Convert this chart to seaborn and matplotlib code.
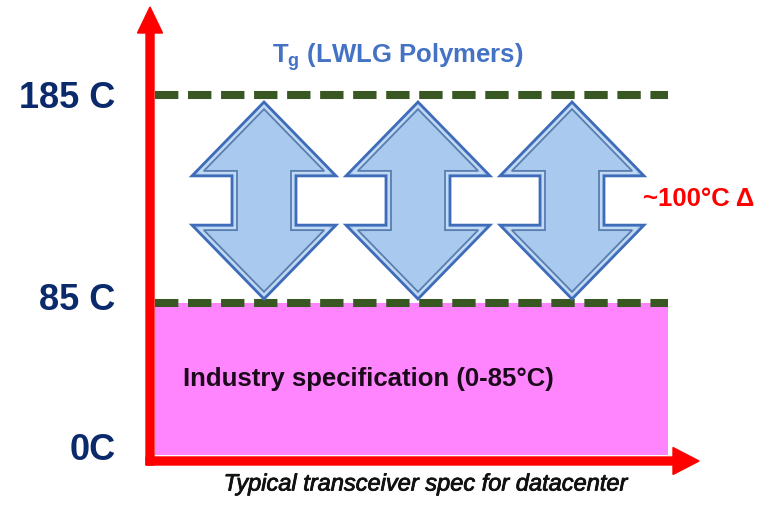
import numpy as np
import matplotlib
matplotlib.use("Agg")
import matplotlib.pyplot as plt
import matplotlib.patheffects as pe
import matplotlib.transforms as mtransforms
from matplotlib.patches import Polygon, FancyArrow
import seaborn as sns

# Temperature levels shown on the vertical axis
levels = [0, 85, 185]
level_labels = ["0C", "85 C", "185 C"]
spec_low, spec_high = 0, 85          # industry specification band (°C)
tg_polymer = 185                     # Tg of LWLG polymers (°C)
n_margin_arrows = 3

spec_label = "Industry specification (0-85°C)"
tg_label = r"$\mathbf{T_g}$ (LWLG Polymers)"
delta_label = "~100°C Δ"
x_label = "Typical transceiver spec for datacenter"

sns.set_theme(style="white")
plt.rcParams["font.family"] = ["Liberation Sans", "DejaVu Sans"]
plt.rcParams["mathtext.fontset"] = "custom"
plt.rcParams["mathtext.rm"] = "Liberation Sans"
plt.rcParams["mathtext.bf"] = "Liberation Sans:bold"

W, H = 769, 505
fig = plt.figure(figsize=(W / 100, H / 100), dpi=100)
ax_left = 150
ax = fig.add_axes([ax_left / W, 0, 1 - ax_left / W, 1])

# schematic temperature scale: 0-85 compressed, 85-185 expanded
anchor_t = np.array([-1000.0, 0.0, 85.0, 185.0, 1185.0])
anchor_p = np.array([50 - 1000 * 152 / 85, 50.0, 202.0, 410.0, 410.0 + 1000 * 2.06])


def forward(t):
    return np.interp(t, anchor_t, anchor_p)


def inverse(p):
    return np.interp(p, anchor_p, anchor_t)


ax.set_yscale("function", functions=(forward, inverse))
ax.set_ylim(inverse(0), inverse(H))
ax.set_xlim(ax_left, W)

# specification band
band_x0, band_x1 = 155, 668
ax.bar((band_x0 + band_x1) / 2, spec_high - spec_low, width=band_x1 - band_x0,
       bottom=spec_low, color="#ff85ff", edgecolor="none", zorder=1)

# dashed limit lines at 85 C and Tg
for lvl in (spec_high, tg_polymer):
    sns.lineplot(x=[band_x0, band_x1], y=[lvl, lvl], ax=ax, color="#385723",
                 lw=5.8, zorder=3)
    ax.lines[-1].set_dashes((2.9, 1.2))
    ax.lines[-1].set_dash_capstyle("butt")

# level labels as y tick labels
ax.set_yticks(levels)
ax.set_yticklabels(level_labels, fontsize=26, fontweight="bold", color="#0b2a6b")
ax.tick_params(axis="y", length=0, pad=25)
ax.set_xticks([])
for s in ax.spines.values():
    s.set_visible(False)
# lower labels sit slightly above their level lines
for lab, lift in zip(ax.get_yticklabels(), (8, 6, 0)):
    lab.set_transform(lab.get_transform()
                      + mtransforms.ScaledTranslation(0, lift / 100, fig.dpi_scale_trans))


def to_px(x, t):
    return ax.transData.transform((x, t))


def offset_polygon(pts, d):
    """Inset a clockwise polygon by d pixels (miter joins)."""
    pts = np.asarray(pts, float)
    n = len(pts)
    out = []
    for i in range(n):
        p0, p1, p2 = pts[i - 1], pts[i], pts[(i + 1) % n]
        e1, e2 = p1 - p0, p2 - p1
        n1 = np.array([e1[1], -e1[0]]) / np.hypot(*e1)
        n2 = np.array([e2[1], -e2[0]]) / np.hypot(*e2)
        out.append(p1 + d * (n1 + n2) / (1 + n1 @ n2))
    return np.array(out)


# double-headed arrows spanning the 85 C -> Tg margin
y_top = to_px(ax_left, tg_polymer)[1] - 7
y_bot = to_px(ax_left, spec_high)[1] + 4
span = y_top - y_bot
head_h = 0.375 * span
wing, shaft = 72, 32
for i in range(n_margin_arrows):
    cx = to_px(264 + 154 * i, 0)[0]
    pts = [
        (cx, y_top), (cx + wing, y_top - head_h), (cx + shaft, y_top - head_h),
        (cx + shaft, y_bot + head_h), (cx + wing, y_bot + head_h), (cx, y_bot),
        (cx - wing, y_bot + head_h), (cx - shaft, y_bot + head_h),
        (cx - shaft, y_top - head_h), (cx - wing, y_top - head_h),
    ]
    fig.patches.append(Polygon(pts, closed=True, transform=None,
                               facecolor="#a9c9ef", edgecolor="#3f6cb8",
                               lw=2.0, zorder=4))
    fig.patches.append(Polygon(offset_polygon(pts, 3.0), closed=True, transform=None,
                               facecolor="none", edgecolor="#c2daf5", lw=1.6, zorder=5))
    fig.patches.append(Polygon(offset_polygon(pts, 5.0), closed=True, transform=None,
                               facecolor="none", edgecolor="#5a7fae", lw=1.3, zorder=5))

# red axis arrows
fig.patches.append(FancyArrow(150, 40, 0, 498 - 40, width=8, head_width=25,
                              head_length=26, length_includes_head=True,
                              transform=None, color="#ff0000", zorder=6))
fig.patches.append(FancyArrow(146, 44, 699 - 146, 0, width=8, head_width=27,
                              head_length=26, length_includes_head=True,
                              transform=None, color="#ff0000", zorder=6))

# annotations
ax.text(183, (spec_low + spec_high) / 2, spec_label, fontsize=18.5,
        fontweight="bold", color="#1a0a1a", ha="left", va="center", zorder=7)
ax.text(643, (spec_high + tg_polymer) / 2, delta_label, fontsize=18.5,
        fontweight="bold", color="#ff0000", ha="left", va="center", zorder=7)
fig.text(398 / W, 1 - 57 / H, tg_label, fontsize=18.5, fontweight="bold",
         color="#4472c4", ha="center", va="center")
fig.text(426 / W, 1 - 484 / H, x_label, fontsize=17, style="italic",
         color="#111111", ha="center", va="center",
         path_effects=[pe.withStroke(linewidth=0.6, foreground="#111111")])

fig.savefig("out.png", dpi=100)
